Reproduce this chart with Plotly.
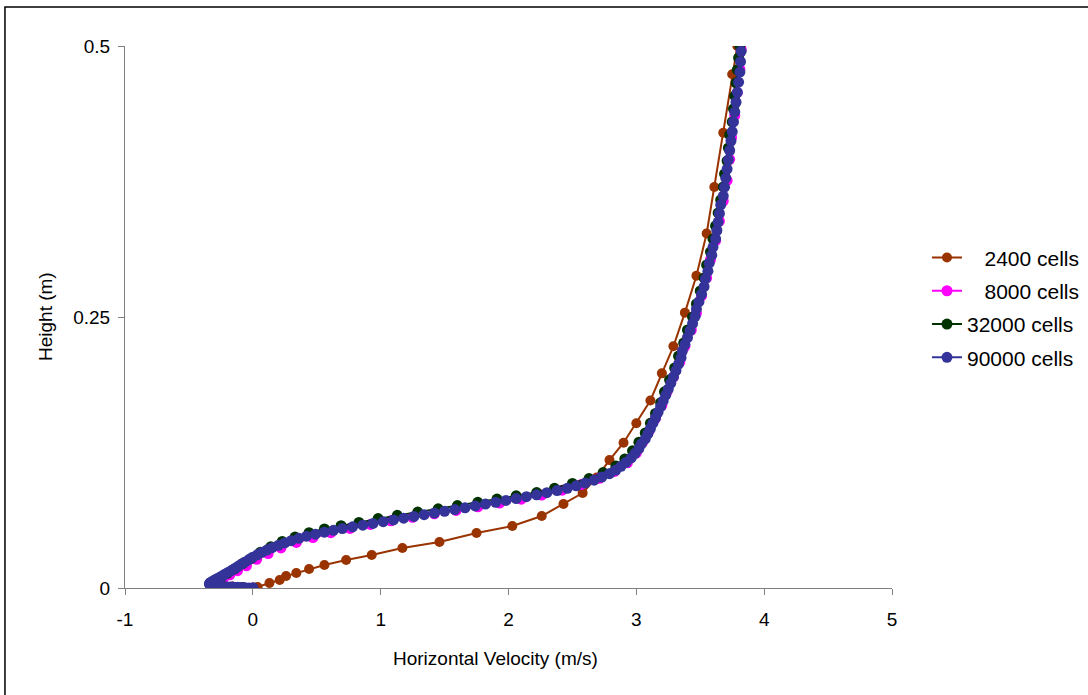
import plotly.graph_objects as go

# ---- data ----
names = ["\u00a0\u00a0\u00a02400 cells", "\u00a0\u00a0\u00a08000 cells", "32000 cells", "90000 cells"]
colors = ["#993300", "#FF00FF", "#003300", "#333399"]
marker_sizes = [10, 11, 11, 11]

x_2400 = [0.00, 0.037, 0.13, 0.21, 0.26, 0.34, 0.44, 0.56, 0.73, 0.93, 1.17, 1.46, 1.75, 2.03, 2.26, 2.43,
          2.58, 2.69, 2.79, 2.90, 3.00, 3.11, 3.20, 3.29, 3.38, 3.47, 3.55, 3.61, 3.68, 3.75, 3.79]
y_2400 = [0.000, 0.001, 0.0046, 0.0074, 0.011, 0.0138, 0.0175, 0.0212, 0.0258, 0.0304, 0.0369, 0.0424,
          0.0507, 0.0572, 0.0664, 0.0775, 0.0876, 0.102, 0.118, 0.134, 0.152, 0.173, 0.198, 0.223, 0.254,
          0.288, 0.327, 0.370, 0.420, 0.474, 0.500]

x_8000 = [0.00, -0.08, -0.16, -0.23, -0.28, -0.29, -0.27, -0.23, -0.18, -0.12, -0.05, 0.03, 0.12, 0.22,
          0.34, 0.47, 0.61, 0.76, 0.92, 1.08, 1.25, 1.42, 1.59, 1.76, 1.93, 2.10, 2.26, 2.42, 2.57, 2.71,
          2.83, 2.93, 3.00, 3.05, 3.10, 3.15, 3.20, 3.24, 3.29, 3.34, 3.38, 3.43, 3.47, 3.51, 3.55, 3.58,
          3.62, 3.65, 3.68, 3.71, 3.73, 3.745, 3.77, 3.79, 3.81, 3.82]
y_8000 = [0.0000, 0.0004, 0.0009, 0.0015, 0.0025, 0.0040, 0.0060, 0.0088, 0.0122, 0.0160, 0.0205, 0.0265,
          0.0318, 0.0370, 0.0420, 0.0466, 0.0510, 0.0550, 0.0586, 0.0620, 0.0652, 0.0684, 0.0716, 0.0749,
          0.0783, 0.0819, 0.0858, 0.0902, 0.0955, 0.1012, 0.1075, 0.1155, 0.1245, 0.1345, 0.1450, 0.1565,
          0.1685, 0.1810, 0.1945, 0.2085, 0.2230, 0.2380, 0.2535, 0.2695, 0.2860, 0.3030, 0.3205, 0.3385,
          0.3570, 0.3760, 0.3955, 0.4155, 0.4360, 0.4570, 0.4785, 0.4970]

x_32000 = [0.00, -0.08, -0.16, -0.24, -0.30, -0.33, -0.32, -0.29, -0.25, -0.20, -0.14, -0.08, -0.01, 0.06,
           0.14, 0.23, 0.33, 0.44, 0.56, 0.69, 0.83, 0.98, 1.13, 1.29, 1.45, 1.60, 1.76, 1.91, 2.06, 2.22,
           2.36, 2.50, 2.63, 2.74, 2.84, 2.91, 2.97, 3.02, 3.07, 3.11, 3.15, 3.19, 3.22, 3.26, 3.30, 3.33,
           3.37, 3.40, 3.44, 3.47, 3.50, 3.53, 3.55, 3.58, 3.60, 3.62, 3.64, 3.66, 3.68, 3.69, 3.71, 3.72,
           3.73, 3.75, 3.76, 3.77, 3.78, 3.79, 3.80, 3.81]
y_32000 = [0.0000, 0.0004, 0.0009, 0.0015, 0.0024, 0.0036, 0.0050, 0.0070, 0.0098, 0.0135, 0.0178, 0.0225,
           0.0275, 0.0330, 0.0380, 0.0430, 0.0470, 0.0510, 0.0545, 0.0575, 0.0605, 0.0640, 0.0670, 0.0700,
           0.0730, 0.0760, 0.0790, 0.0820, 0.0850, 0.0880, 0.0920, 0.0965, 0.1010, 0.1065, 0.1125, 0.1190,
           0.1265, 0.1345, 0.1430, 0.1520, 0.1610, 0.1710, 0.1810, 0.1920, 0.2030, 0.2140, 0.2260, 0.2380,
           0.2500, 0.2620, 0.2740, 0.2860, 0.2980, 0.3100, 0.3220, 0.3340, 0.3460, 0.3580, 0.3700, 0.3820,
           0.3940, 0.4060, 0.4180, 0.4300, 0.4420, 0.4540, 0.4660, 0.4780, 0.4890, 0.5000]

x_90000 = [0.00, -0.03, -0.06, -0.09, -0.12, -0.15, -0.18, -0.21, -0.24, -0.27, -0.30, -0.32, -0.335, -0.34,
           -0.335, -0.325, -0.31, -0.295, -0.275, -0.255, -0.235, -0.215, -0.19, -0.165, -0.14, -0.115,
           -0.09, -0.06, -0.03, 0.00, 0.035, 0.07, 0.11, 0.15, 0.20, 0.25, 0.30, 0.36, 0.42, 0.49, 0.56,
           0.63, 0.70, 0.78, 0.86, 0.94, 1.02, 1.10, 1.18, 1.26, 1.34, 1.42, 1.50, 1.58, 1.66, 1.74, 1.82,
           1.90, 1.98, 2.06, 2.14, 2.22, 2.30, 2.38, 2.46, 2.53, 2.60, 2.67, 2.73, 2.79, 2.84, 2.88, 2.92,
           2.96, 2.99, 3.02, 3.04, 3.07, 3.09, 3.11, 3.13, 3.15, 3.17, 3.19, 3.21, 3.23, 3.25, 3.27, 3.29,
           3.31, 3.33, 3.35, 3.36, 3.38, 3.40, 3.42, 3.44, 3.46, 3.47, 3.49, 3.51, 3.53, 3.54, 3.56, 3.57,
           3.59, 3.60, 3.62, 3.63, 3.64, 3.65, 3.66, 3.68, 3.69, 3.70, 3.71, 3.72, 3.73, 3.74, 3.75, 3.76,
           3.77, 3.78, 3.79, 3.80, 3.81, 3.815, 3.82]
y_90000 = [0.0000, 0.0001, 0.0003, 0.0004, 0.0006, 0.0007, 0.0009, 0.0011, 0.0013, 0.0016, 0.0020, 0.0025,
           0.0031, 0.0038, 0.0046, 0.0055, 0.0065, 0.0076, 0.0088, 0.0101, 0.0115, 0.0130, 0.0146, 0.0163,
           0.0181, 0.0200, 0.0220, 0.0241, 0.0262, 0.0284, 0.0306, 0.0328, 0.0350, 0.0372, 0.0394, 0.0416,
           0.0437, 0.0458, 0.0478, 0.0497, 0.0515, 0.0532, 0.0548, 0.0564, 0.0580, 0.0596, 0.0612, 0.0628,
           0.0644, 0.0660, 0.0676, 0.0692, 0.0708, 0.0724, 0.0740, 0.0757, 0.0774, 0.0791, 0.0808, 0.0825,
           0.0842, 0.0860, 0.0879, 0.0899, 0.0920, 0.0943, 0.0968, 0.0995, 0.1024, 0.1055, 0.1088, 0.1123,
           0.1160, 0.1200, 0.1242, 0.1285, 0.1330, 0.1376, 0.1423, 0.1471, 0.1520, 0.1570, 0.1621, 0.1673,
           0.1726, 0.1780, 0.1835, 0.1891, 0.1948, 0.2006, 0.2065, 0.2125, 0.2186, 0.2248, 0.2311, 0.2375,
           0.2440, 0.2506, 0.2573, 0.2641, 0.2710, 0.2780, 0.2851, 0.2923, 0.2996, 0.3070, 0.3145, 0.3221,
           0.3298, 0.3376, 0.3455, 0.3535, 0.3616, 0.3698, 0.3781, 0.3865, 0.3950, 0.4036, 0.4123, 0.4211,
           0.4300, 0.4390, 0.4481, 0.4573, 0.4666, 0.4760, 0.4855, 0.4951]

x_ticks = [-1, 0, 1, 2, 3, 4, 5]
x_tick_text = ["-1", "0", "1", "2", "3", "4", "5"]
y_ticks = [0, 0.25, 0.5]
y_tick_text = ["0", "0.25", "0.5"]

series = [(x_2400, y_2400), (x_8000, y_8000), (x_32000, y_32000), (x_90000, y_90000)]

FONT = "Liberation Sans, Arial, sans-serif"
fig = go.Figure()
for i, ((xs, ys), nm, col, ms) in enumerate(zip(series, names, colors, marker_sizes)):
    fig.add_trace(go.Scatter(
        x=xs, y=ys, mode="lines+markers", name=nm, legendgroup=str(i),
        line=dict(color=col, width=2),
        marker=dict(color=col, size=ms, line=dict(width=0)),
    ))

axis_common = dict(showgrid=False, zeroline=False, showline=True, linecolor="#808080", linewidth=1,
                   ticks="outside", ticklen=6, tickcolor="#808080", tickwidth=1,
                   tickfont=dict(family=FONT, size=19, color="black"))
fig.update_xaxes(range=[-1, 5], tickvals=x_ticks, ticktext=x_tick_text, ticklabelstandoff=8, **axis_common)
fig.update_yaxes(range=[0, 0.5], tickvals=y_ticks, ticktext=y_tick_text, ticklabelstandoff=4, **axis_common)

fig.update_layout(
    width=1088, height=695,
    margin=dict(l=125, r=196, t=46, b=107, autoexpand=False),
    paper_bgcolor="white", plot_bgcolor="white",
    font=dict(family=FONT, size=19, color="black"),
    showlegend=True,
    legend=dict(x=1.0456, y=0.517, xanchor="left", yanchor="middle",
                font=dict(family=FONT, size=21, color="black"),
                traceorder="grouped", tracegroupgap=3, bgcolor="rgba(0,0,0,0)",
                itemclick=False),
    annotations=[
        dict(text="Horizontal Velocity (m/s)", xref="paper", yref="paper", x=0.4824, y=0,
             xanchor="center", yanchor="middle", yshift=-70, showarrow=False,
             font=dict(family=FONT, size=19, color="black")),
        dict(text="Height (m)", xref="paper", yref="paper", x=0, y=0.5, textangle=-90,
             xanchor="center", yanchor="middle", xshift=-80, showarrow=False,
             font=dict(family=FONT, size=19, color="black")),
    ],
    shapes=[dict(type="rect", xref="paper", yref="paper", x0=-0.1565, y0=-0.4, x1=1.5, y1=1.072,
                 line=dict(color="black", width=1.5), fillcolor="rgba(0,0,0,0)", layer="below")],
)

fig.write_html("out.html")
